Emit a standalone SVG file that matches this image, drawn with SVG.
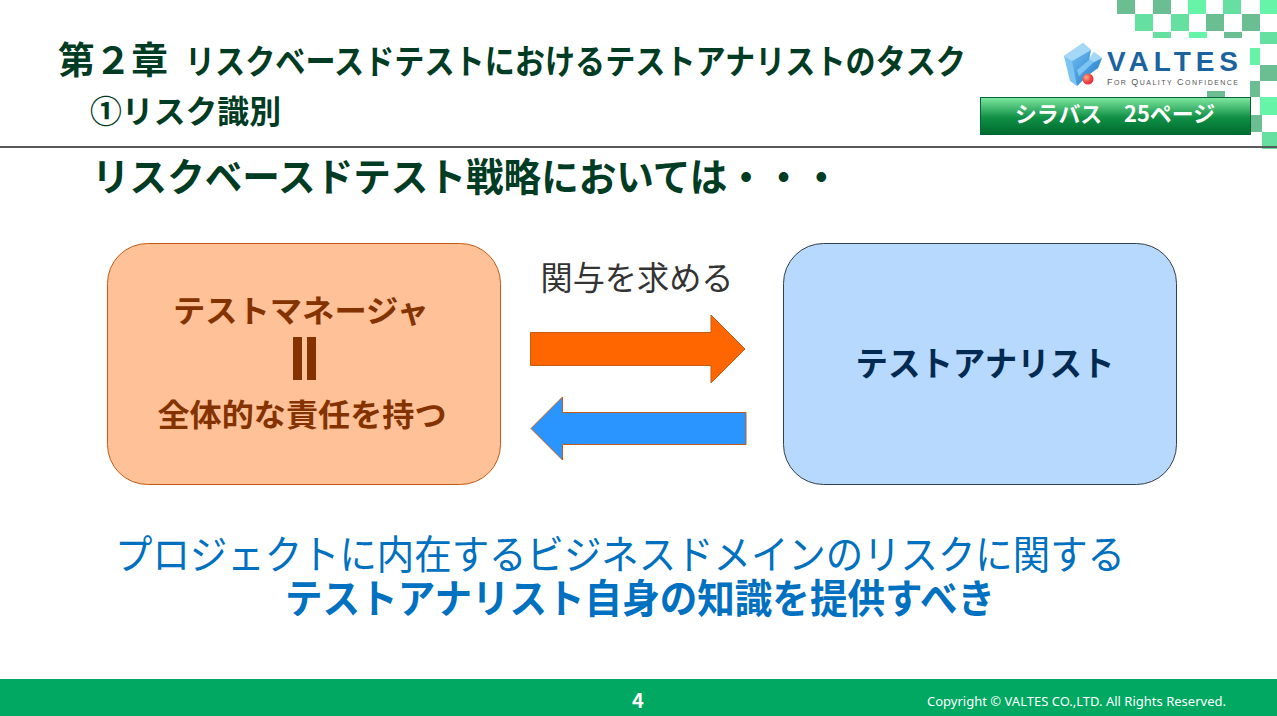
<svg xmlns="http://www.w3.org/2000/svg" width="1277" height="716" viewBox="0 0 1277 716">
<defs>
<linearGradient id="tag" x1="0" y1="0" x2="0" y2="1"><stop offset="0" stop-color="#7fe8a0"/><stop offset="0.55" stop-color="#0f8f45"/><stop offset="1" stop-color="#006a2e"/></linearGradient>
<linearGradient id="logoA" x1="0" y1="0" x2="1" y2="1"><stop offset="0" stop-color="#6fbdf0"/><stop offset="1" stop-color="#1f78c8"/></linearGradient>
<radialGradient id="ball" cx="0.35" cy="0.35" r="0.8"><stop offset="0" stop-color="#ffb090"/><stop offset="0.5" stop-color="#f04a40"/><stop offset="1" stop-color="#d82048"/></radialGradient>
</defs>
<style>
text{font-family:"Noto Sans CJK JP","Noto Sans",sans-serif}
.g{fill:#003b24;font-weight:700}
.d{fill:#6bbd92}.m{fill:#66e0a0}.b{fill:#66f5a8}
.box{stroke-width:1}
.blue{fill:#0070c0}
.logo{font-family:"Liberation Sans",sans-serif}
</style>
<rect width="1277" height="716" fill="#fff"/>
<g id="checker">
<rect class="d" x="1117" y="0" width="18" height="14"/><rect class="d" x="1153" y="0" width="18" height="14"/><rect class="b" x="1188" y="0" width="18" height="14"/><rect class="m" x="1223" y="0" width="18" height="14"/><rect class="b" x="1260" y="0" width="17" height="14"/>
<rect class="m" x="1135" y="14" width="18" height="17"/><rect class="m" x="1171" y="14" width="18" height="17"/><rect class="d" x="1206" y="14" width="18" height="17"/><rect class="d" x="1242" y="14" width="18" height="17"/>
<rect class="m" x="1153" y="32" width="18" height="6"/><rect class="b" x="1189" y="32" width="18" height="6"/><rect class="d" x="1224" y="32" width="18" height="6"/>
<rect class="m" x="1260" y="32" width="17" height="12"/><rect class="b" x="1250" y="48" width="10" height="17"/><rect class="d" x="1260" y="65" width="17" height="16"/><rect class="d" x="1250" y="81" width="10" height="16"/><rect class="d" x="1207" y="91" width="18" height="6"/><rect class="b" x="1260" y="97" width="17" height="18"/><rect class="d" x="1251" y="115" width="11" height="17"/><rect class="m" x="1262" y="132" width="15" height="17"/>
</g>
<rect id="rule" x="0" y="146" width="1277" height="2" fill="#5a5a5a"/>
<g id="title">
<text class="g" x="58" y="74" font-size="37" textLength="110" lengthAdjust="spacingAndGlyphs">第２章</text>
<text class="g" x="185" y="74" font-size="34" textLength="781" lengthAdjust="spacingAndGlyphs">リスクベースドテストにおけるテストアナリストのタスク</text>
<text class="g" x="90" y="123" font-size="32" textLength="191" lengthAdjust="spacingAndGlyphs">①リスク識別</text>
<text class="g" x="92" y="191" font-size="39" textLength="748" lengthAdjust="spacingAndGlyphs">リスクベースドテスト戦略においては・・・</text>
</g>
<g id="logo">
<path d="M1064 56L1083 43L1091 50L1089 59L1094 52L1102 58L1098 68L1087 76L1077 86L1070 81Z" fill="#7cc4f2"/>
<path d="M1072 61L1091 50L1089 60L1077 70L1079 76L1094 62L1102 58L1098 68L1087 76L1077 86Z" fill="url(#logoA)"/>
<path d="M1064 56L1083 43L1091 50L1072 61Z" fill="#a5d8f7"/>
<path d="M1094 52L1102 58L1094 62L1089 59Z" fill="#a5d8f7"/>
<circle cx="1088" cy="79" r="5.500" fill="url(#ball)"/>
<text class="logo" x="1107" y="71" font-size="28" font-weight="700" fill="#1b639f" textLength="131">VALTES</text>
<text class="logo" x="1107" y="85" font-size="9" fill="#555" textLength="131">F<tspan font-size="7">OR</tspan> Q<tspan font-size="7">UALITY</tspan> C<tspan font-size="7">ONFIDENCE</tspan></text>
</g>
<g id="tag">
<rect x="980.500" y="97.500" width="270" height="37" fill="url(#tag)" stroke="#00653a"/>
<text x="1015" y="122" font-size="22" font-weight="700" fill="#fff" textLength="200" lengthAdjust="spacingAndGlyphs">シラバス　25ページ</text>
</g>
<g id="manager">
<rect class="box" x="107.500" y="243.500" width="393" height="241" rx="40" fill="#ffc197" stroke="#c55a11"/>
<text x="301" y="322" font-size="31" font-weight="700" fill="#843200" text-anchor="middle" textLength="256" lengthAdjust="spacingAndGlyphs">テストマネージャ</text>
<rect x="293" y="337" width="9" height="43" fill="#843200"/><rect x="307" y="337" width="9" height="43" fill="#843200"/>
<text x="302" y="426" font-size="31" font-weight="700" fill="#843200" text-anchor="middle" textLength="289" lengthAdjust="spacingAndGlyphs">全体的な責任を持つ</text>
</g>
<g id="analyst">
<rect class="box" x="783.500" y="243.500" width="393" height="241" rx="40" fill="#b7d9fe" stroke="#333f4a"/>
<text x="985" y="376" font-size="34" font-weight="700" fill="#002a52" text-anchor="middle" textLength="259" lengthAdjust="spacingAndGlyphs">テストアナリスト</text>
</g>
<g id="connectors">
<path d="M530.500 332.500H711V315L745 349L711 383V365.500H530.500Z" fill="#ff6600" stroke="#c55a11"/>
<path d="M746 412.500H562.500V397L531 428.500L562.500 460V444.500H746Z" fill="#2a94ff" stroke="#c55a11"/>
</g>
<text id="label" x="637" y="290" font-size="33" fill="#333" text-anchor="middle" textLength="193" lengthAdjust="spacingAndGlyphs">関与を求める</text>
<g id="message">
<text class="blue" x="620" y="569" font-size="40" text-anchor="middle" textLength="1010" lengthAdjust="spacingAndGlyphs">プロジェクトに内在するビジネスドメインのリスクに関する</text>
<text class="blue" x="640" y="613" font-size="40" font-weight="700" text-anchor="middle" textLength="710" lengthAdjust="spacingAndGlyphs">テストアナリスト自身の知識を提供すべき</text>
</g>
<g id="footer">
<rect x="0" y="679" width="1277" height="37" fill="#00a862"/>
<text x="638" y="708" font-size="20" font-weight="700" fill="#fff" text-anchor="middle">4</text>
<text x="927" y="706" font-size="12.500" fill="#fff" textLength="299" lengthAdjust="spacingAndGlyphs" style="font-family:'Noto Sans',sans-serif">Copyright © VALTES CO.,LTD. All Rights Reserved.</text>
</g>
</svg>
